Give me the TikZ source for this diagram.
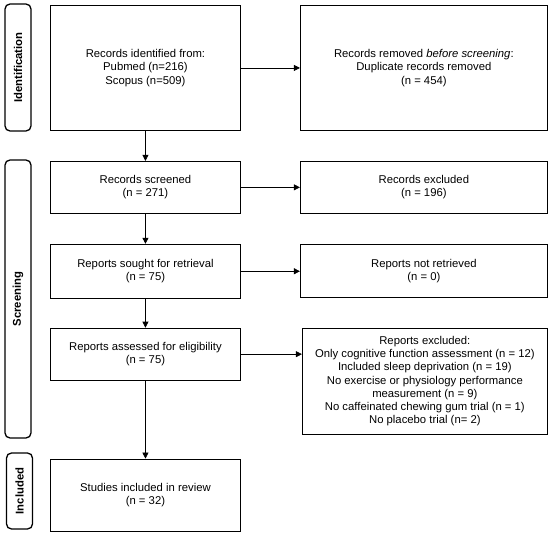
\documentclass[tikz,border=0pt]{standalone}
\usepackage{fontspec}
\setmainfont{Liberation Sans}
\usetikzlibrary{arrows.meta,positioning}
\begin{document}
\begin{tikzpicture}[
 x=1pt,y=1pt,
 node distance=30pt and 59pt,
 every node/.style={font=\fontsize{11.3}{13.3}\selectfont},
 box/.style={draw,line width=0.9pt,align=center,minimum width=190pt,inner sep=0pt},
 wbox/.style={box,minimum width=247pt},
 stage/.style={draw,line width=1.3pt,rounded corners=5pt,rotate=90,minimum height=26pt,inner sep=0pt,font=\fontsize{11.3}{13.3}\selectfont\bfseries},
 arr/.style={-{Triangle[length=6pt,width=6pt]},line width=0.6pt}
]
\useasboundingbox (0,0) rectangle (550,-533);
% stages
\node[stage,minimum width=127pt] (idlab) at (18,-67.5) {Identification};
\node[stage,minimum width=278pt] (scrlab) at (18,-299) {Screening};
\node[stage,minimum width=76pt] (inclab) at (19.5,-491) {Included};
% main column
\node[box,minimum height=125pt,anchor=north west] (ident) at (50,-5) {Records identified from:\\Pubmed (n=216)\\Scopus (n=509)};
\node[box,minimum height=52pt,below=of ident] (screen) {Records screened\\(n = 271)};
\node[box,minimum height=54pt,below=of screen] (sought) {Reports sought for retrieval\\(n = 75)};
\node[box,minimum height=52pt,below=29pt of sought] (assess) {Reports assessed for eligibility\\(n = 75)};
\node[box,minimum height=72pt,below=78pt of assess] (incl) {Studies included in review\\(n = 32)};
% side column
\node[wbox,minimum height=125pt,right=of ident] (removed) {Records removed \textit{before screening}:\\Duplicate records removed\\(n = 454)};
\node[wbox,minimum height=52pt,right=of screen] (excl) {Records excluded\\(n = 196)};
\node[wbox,minimum height=53pt,right=of sought] (notret) {Reports not retrieved\\(n = 0)};
\node[wbox,minimum width=245pt,minimum height=106pt,right=61pt of assess.north east,anchor=north west] (rexcl) {Reports excluded:\\Only cognitive function assessment (n = 12)\\Included sleep deprivation (n = 19)\\No exercise or physiology performance\\measurement (n = 9)\\No caffeinated chewing gum trial (n = 1)\\No placebo trial (n= 2)};
% arrows
\draw[arr] (ident)--(screen);
\draw[arr] (screen)--(sought);
\draw[arr] (sought)--(assess);
\draw[arr] (assess)--(incl);
\draw[arr] (ident)--(removed);
\draw[arr] (screen)--(excl);
\draw[arr] (sought)--(notret);
\draw[arr] (assess.east)--(assess.east-|rexcl.west);
\end{tikzpicture}
\end{document}
